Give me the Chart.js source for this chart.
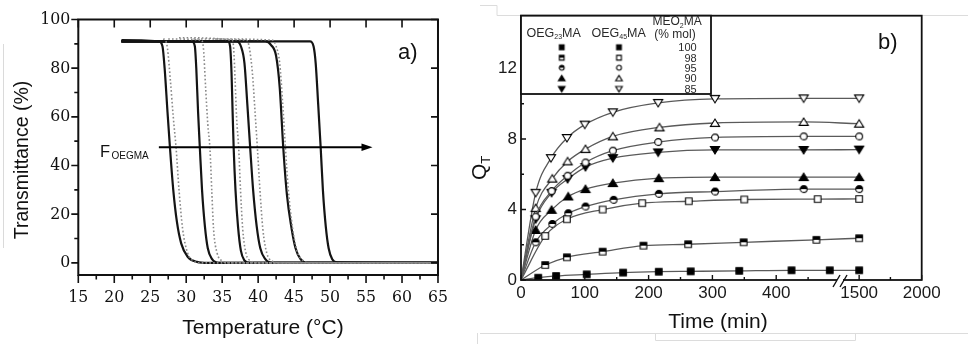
<!DOCTYPE html>
<html><head><meta charset="utf-8">
<script src="https://cdn.jsdelivr.net/npm/chart.js@4/dist/chart.umd.min.js"></script>
<style>
html,body{margin:0;padding:0;background:#fff;width:968px;height:344px;overflow:hidden}
#wa{position:absolute;left:0;top:0;width:460px;height:344px}
#wb{position:absolute;left:460px;top:0;width:508px;height:344px}
</style></head><body>
<div id="wa"><canvas id="ca"></canvas></div>
<div id="wb"><canvas id="cb"></canvas></div>
<script>
// ---------- Panel a) data ----------
const tempTicks = [15,20,25,30,35,40,45,50,55,60,65];
const tempMinor = [17.5,22.5,27.5,32.5,37.5,42.5,47.5,52.5,57.5,62.5];
const transTicks = [0,20,40,60,80,100];
const transMinor = [10,30,50,70,90];
const arrowT = [26.2, 55.9];
const arrowY = 47.5;

// heating curves (solid)
const h1T = [21, 26.2, 26.7, 27.0, 27.4, 27.75, 28.2, 28.7, 29.3, 30.2, 31.5, 33, 65];
const h1Y = [91.5, 91, 89, 80, 62, 47, 30, 17, 8, 2.5, 0.4, 0, 0];
const h2T = [21, 30.8, 31.2, 31.4, 31.65, 31.9, 32.2, 32.6, 33.0, 33.6, 34.5, 65];
const h2Y = [91, 91, 89, 80, 62, 47, 30, 15, 6, 1.5, 0, 0];
const h3T = [21, 35.8, 36.1, 36.3, 36.45, 36.6, 36.85, 37.2, 37.6, 38.1, 38.8, 65];
const h3Y = [91, 91, 89, 78, 62, 47, 30, 15, 5, 1, 0, 0];
const h4T = [21, 37.0, 37.6, 38.1, 38.5, 38.9, 39.3, 39.8, 40.3, 41.0, 42.0, 65];
const h4Y = [91, 91, 89, 82, 65, 47, 30, 15, 6, 1.5, 0, 0];
const h5T = [21, 41.0, 41.8, 42.5, 43.0, 43.5, 44.0, 44.6, 45.2, 45.9, 46.8, 65];
const h5Y = [91, 91, 89.5, 85, 72, 47, 28, 15, 6, 1.5, 0, 0];
const h6T = [21, 47.2, 47.7, 48.0, 48.35, 48.7, 49.0, 49.4, 49.8, 50.3, 51.0, 65];
const h6Y = [91, 91, 89, 82, 65, 47, 30, 15, 6, 1.5, 0.2, 0];
// cooling curves (dotted)
const c1T = [26.8, 27.1, 27.4, 27.8, 28.2, 28.6, 29.0, 29.5, 30.2, 31.0, 32.0, 65];
const c1Y = [92, 91.5, 88, 75, 60, 47, 30, 14, 4, 0.8, 0, 0];
const c2T = [27.5, 32.1, 32.4, 32.7, 33.0, 33.3, 33.55, 33.8, 34.3, 35.0, 36.0, 65];
const c2Y = [92, 91.5, 88, 72, 57, 47, 30, 14, 4, 0.8, 0, 0];
const c3T = [29, 36.4, 36.6, 36.8, 37.0, 37.3, 37.55, 37.85, 38.3, 39.0, 40.0, 65];
const c3Y = [92.5, 91.5, 88, 75, 60, 47, 30, 14, 4, 0.8, 0, 0];
const c4T = [31, 38.4, 38.8, 39.2, 39.55, 39.9, 40.25, 40.65, 41.2, 41.9, 43.0, 65];
const c4Y = [92, 91.5, 88, 78, 63, 47, 30, 14, 4, 0.8, 0, 0];
const c5T = [34, 42.0, 42.5, 43.0, 43.4, 43.8, 44.2, 44.8, 45.4, 46.2, 47.2, 65];
const c5Y = [92, 91.5, 89, 82, 66, 47, 30, 14, 5, 1, 0, 0];

// ---------- Panel b) data ----------
const timeTickVals = [0,100,200,300,400,1500,2000];
const timeTickLabels = ['0','100','200','300','400','1500','2000'];
const timeMinor = [50,150,250,350,450,1750];
const qTicks = [0,4,8,12];
const qMinor = [2,6,10,14];
const legendPct = ['100','98','95','90','85'];

const t100 = [0, 27, 55, 103, 160, 216, 266, 342, 424, 484, 1500];
const q100 = [0, 0.13, 0.23, 0.32, 0.42, 0.47, 0.49, 0.52, 0.55, 0.55, 0.55];
const tA98 = [0, 38, 72, 128, 192, 262, 349, 463, 1500];
const qA98 = [0, 0.85, 1.29, 1.61, 1.95, 2.03, 2.14, 2.28, 2.37];
const tB98 = [0, 38, 72, 128, 190, 263, 350, 465, 1500];
const qB98 = [0, 2.5, 3.45, 4.0, 4.36, 4.47, 4.57, 4.59, 4.6];
const tA95 = [0, 23, 49, 74, 101, 145, 216, 304, 443, 1500];
const qA95 = [0, 2.14, 3.18, 3.79, 4.17, 4.55, 4.89, 5.02, 5.16, 5.16];
const tB95 = [0, 23, 48, 73, 101, 144, 215, 304, 443, 1500];
const qB95 = [0, 3.6, 5.05, 5.92, 6.67, 7.34, 7.83, 8.09, 8.15, 8.15];
const tA90 = [0, 23, 48, 74, 101, 144, 216, 304, 443, 1500];
const qA90 = [0, 2.84, 3.98, 4.74, 5.16, 5.5, 5.78, 5.84, 5.84, 5.84];
const tB90 = [0, 23, 49, 73, 101, 144, 217, 304, 443, 1500];
const qB90 = [0, 4.08, 5.75, 6.73, 7.43, 8.15, 8.66, 8.91, 8.97, 8.87];
const tA85 = [0, 23, 48, 73, 101, 144, 215, 304, 443, 1500];
const qA85 = [0, 3.45, 4.95, 5.73, 6.41, 6.92, 7.24, 7.38, 7.38, 7.4];
const tB85 = [0, 23, 47, 72, 100, 144, 215, 304, 443, 1500];
const qB85 = [0, 4.95, 6.92, 8.06, 8.82, 9.52, 10.05, 10.28, 10.31, 10.31];

// broken time axis: 0-500 linear, 1500-2000 compressed
function toAxis(t){ return t <= 500 ? t : 530 + (t - 1500) / 5.1; }
function pts(xs, ys, f){ return xs.map((x,i)=>({x: f ? f(x) : x, y: ys[i]})); }

const SANS = '"Liberation Sans", Arimo, Arial, sans-serif';
const SERIF = '"DejaVu Serif Condensed", "DejaVu Serif", serif';

// ---------- marker images ----------
function marker(kind, s){
  const w = Math.round(12*s) + 2;
  const c = document.createElement('canvas'); c.width = w; c.height = w;
  const g = c.getContext('2d'); const m = w/2;
  g.lineWidth = 1.1; g.strokeStyle = '#000'; g.lineJoin = 'miter';
  const shape = kind.slice(0,2), fill = kind[2];
  function path(){
    g.beginPath();
    if (shape === 'sq'){ const r = 3.3*s; g.rect(m-r, m-r, 2*r, 2*r); }
    else if (shape === 'ci'){ g.arc(m, m, 3.4*s, 0, Math.PI*2); }
    else if (shape === 'tr'){ g.moveTo(m, m-4.0*s); g.lineTo(m+4.6*s, m+3.4*s); g.lineTo(m-4.6*s, m+3.4*s); g.closePath(); }
    else { g.moveTo(m, m+4.0*s); g.lineTo(m+4.6*s, m-3.4*s); g.lineTo(m-4.6*s, m-3.4*s); g.closePath(); }
  }
  path();
  if (fill === 'F'){ g.fillStyle = '#000'; g.fill(); g.stroke(); }
  else if (fill === 'O'){ g.fillStyle = '#fff'; g.fill(); g.stroke(); }
  else { g.fillStyle = '#fff'; g.fill(); g.save(); path(); g.clip(); g.fillStyle = '#000'; g.fillRect(0,0,w,m); g.restore(); path(); g.stroke(); }
  return c;
}

// ---------- Panel a ----------
const heatCurves = [[h1T,h1Y],[h2T,h2Y],[h3T,h3Y],[h4T,h4Y],[h5T,h5Y],[h6T,h6Y]];
const coolCurves = [[c1T,c1Y],[c2T,c2Y],[c3T,c3Y],[c4T,c4Y],[c5T,c5Y]];
const dsA = [];
coolCurves.forEach(([t,y]) => dsA.push({data: pts(t,y), borderColor:'#8a8a8a', borderWidth:1.6, borderDash:[1.6,2.2], pointRadius:0, cubicInterpolationMode:'monotone', fill:false}));
heatCurves.forEach(([t,y]) => dsA.push({data: pts(t,y), borderColor:'#141414', borderWidth:2.2, pointRadius:0, cubicInterpolationMode:'monotone', fill:false}));

const plugA = {
  id: 'plugA',
  afterDraw(chart){
    const c = chart.ctx, a = chart.chartArea, x = chart.scales.x, y = chart.scales.y;
    c.save();
    c.strokeStyle = '#dadada'; c.lineWidth = 1;
    c.beginPath(); c.moveTo(3.5, 44); c.lineTo(3.5, 248); c.stroke();
    c.strokeStyle = '#111'; c.lineWidth = 2;
    c.strokeRect(a.left, a.top, a.right - a.left, a.bottom - a.top);
    c.lineWidth = 1.6; c.beginPath();
    tempTicks.forEach(v => { const p = x.getPixelForValue(v);
      c.moveTo(p, a.bottom); c.lineTo(p, a.bottom + 8);
      c.moveTo(p, a.top); c.lineTo(p, a.top + 8); });
    tempMinor.forEach(v => { const p = x.getPixelForValue(v);
      c.moveTo(p, a.bottom); c.lineTo(p, a.bottom + 4.5); });
    transTicks.forEach(v => { const p = y.getPixelForValue(v);
      c.moveTo(a.left - 7, p); c.lineTo(a.left, p);
      c.moveTo(a.right, p); c.lineTo(a.right - 7, p); });
    transMinor.forEach(v => { const p = y.getPixelForValue(v);
      c.moveTo(a.left - 4, p); c.lineTo(a.left, p); });
    c.stroke();
    const x1 = x.getPixelForValue(arrowT[0]), x2 = x.getPixelForValue(arrowT[1]), py = y.getPixelForValue(arrowY);
    c.strokeStyle = '#000'; c.lineWidth = 2;
    c.beginPath(); c.moveTo(x1, py); c.lineTo(x2 - 8, py); c.stroke();
    c.fillStyle = '#000'; c.beginPath(); c.moveTo(x2, py); c.lineTo(x2 - 11, py - 3.8); c.lineTo(x2 - 11, py + 3.8); c.closePath(); c.fill();
    c.fillStyle = '#111'; c.textBaseline = 'alphabetic'; c.textAlign = 'left';
    c.font = '16.5px ' + SANS; c.fillText('F', 100, 157);
    c.font = '10px ' + SANS; c.fillText('OEGMA', 111.5, 158.5);
    c.font = '22px ' + SANS; c.textBaseline = 'middle'; c.fillText('a)', 398, 53);
    c.textAlign = 'center';
    c.font = '21px ' + SANS; c.fillText('Temperature (°C)', 263, 328);
    c.save(); c.translate(23, 160); c.rotate(-Math.PI/2);
    c.font = '19.5px ' + SANS; c.fillText('Transmittance (%)', 0, 0); c.restore();
    c.restore();
  }
};

new Chart(document.getElementById('ca'), {
  type: 'line',
  data: { datasets: dsA },
  options: {
    responsive: true, maintainAspectRatio: false, animation: false, devicePixelRatio: 1,
    layout: { padding: { left: 0, top: 19.5, right: 7.3, bottom: 0 } },
    plugins: { legend: { display: false }, tooltip: { enabled: false } },
    scales: {
      x: { type: 'linear', min: 15, max: 65,
        afterBuildTicks: s => { s.ticks = tempTicks.map(v => ({value: v})); },
        afterFit: s => { s.height = 69; },
        grid: { display: false, drawTicks: false }, border: { display: false },
        ticks: { font: { family: SERIF, size: 17.5 }, color: '#111', padding: 12, maxRotation: 0, autoSkip: false } },
      y: { type: 'linear', min: -5, max: 100,
        afterBuildTicks: s => { s.ticks = transTicks.map(v => ({value: v})); },
        afterFit: s => { s.width = 78.3; },
        grid: { display: false, drawTicks: false }, border: { display: false },
        ticks: { font: { family: SERIF, size: 17.5 }, color: '#111', padding: 8 } }
    }
  },
  plugins: [plugA]
});

// ---------- Panel b ----------
const seriesB = [
  {t: t100, q: q100, m: 'sqF'},
  {t: tA98, q: qA98, m: 'sqH'},
  {t: tB98, q: qB98, m: 'sqO'},
  {t: tA95, q: qA95, m: 'ciH'},
  {t: tB95, q: qB95, m: 'ciO'},
  {t: tA90, q: qA90, m: 'trF'},
  {t: tB90, q: qB90, m: 'trO'},
  {t: tA85, q: qA85, m: 'tdF'},
  {t: tB85, q: qB85, m: 'tdO'}
];
const dsB = seriesB.map(s => ({
  data: pts(s.t, s.q, toAxis), borderColor: '#5a5a5a', borderWidth: 1.3,
  cubicInterpolationMode: 'monotone', fill: false,
  pointStyle: marker(s.m, 1),
  pointRadius: ctx => (s.t[ctx.dataIndex] === 0 ? 0 : 4)
}));
const legendA = ['sqF','sqH','ciH','trF','tdF'].map(k => marker(k, 0.72));
const legendB = ['sqF','sqO','ciO','trO','tdO'].map(k => marker(k, 0.72));

function subText(c, parts, x, y, big, small){
  let cx = x;
  parts.forEach((p, i) => {
    if (i % 2 === 0){ c.font = big + 'px ' + SANS; c.fillText(p, cx, y); }
    else { c.font = small + 'px ' + SANS; c.fillText(p, cx, y + 2.5); }
    cx += c.measureText(p).width;
  });
}

const plugB = {
  id: 'plugB',
  afterDraw(chart){
    const c = chart.ctx, a = chart.chartArea, x = chart.scales.x, y = chart.scales.y;
    const ox = 460;
    c.save();
    c.strokeStyle = '#dcdcdc'; c.lineWidth = 1;
    c.beginPath();
    c.moveTo(480 - ox, 5.5); c.lineTo(497 - ox, 5.5); c.lineTo(497 - ox, 15.5); c.lineTo(508, 15.5);
    c.moveTo(480 - ox, 333.5); c.lineTo(508, 333.5);
    c.moveTo(655.5 - ox, 333.5); c.lineTo(655.5 - ox, 340.5); c.lineTo(855.5 - ox, 340.5); c.lineTo(855.5 - ox, 333.5);
    c.moveTo(17.5, 333); c.lineTo(17.5, 344);
    c.stroke();
    c.strokeStyle = '#111'; c.lineWidth = 1.8;
    c.strokeRect(a.left, a.top, a.right - a.left, a.bottom - a.top);
    c.lineWidth = 1.4; c.beginPath();
    timeTickVals.forEach(v => { const p = x.getPixelForValue(toAxis(v)); c.moveTo(p, a.bottom); c.lineTo(p, a.bottom - 5); });
    timeMinor.forEach(v => { const p = x.getPixelForValue(toAxis(v)); c.moveTo(p, a.bottom); c.lineTo(p, a.bottom - 3); });
    qTicks.forEach(v => { const p = y.getPixelForValue(v); c.moveTo(a.left, p); c.lineTo(a.left + 5, p); });
    qMinor.forEach(v => { const p = y.getPixelForValue(v); c.moveTo(a.left, p); c.lineTo(a.left + 3, p); });
    c.stroke();
    const xb = x.getPixelForValue(500);
    c.fillStyle = '#fff'; c.fillRect(xb - 3, a.bottom - 2, 6, 4);
    c.strokeStyle = '#111'; c.lineWidth = 1.4; c.beginPath();
    c.moveTo(xb - 7, a.bottom + 7); c.lineTo(xb, a.bottom - 5);
    c.moveTo(xb, a.bottom + 7); c.lineTo(xb + 7, a.bottom - 5);
    c.stroke();
    const L = a.left, T = a.top, R = 711 - ox, B = 94;
    c.fillStyle = '#fff'; c.fillRect(L, T, R - L, B - T);
    c.strokeStyle = '#111'; c.lineWidth = 1.8; c.strokeRect(L, T, R - L, B - T);
    c.fillStyle = '#2a2a2a'; c.textAlign = 'left'; c.textBaseline = 'alphabetic';
    subText(c, ['OEG','23','MA'], 526.5 - ox, 36.7, 12.5, 7);
    subText(c, ['OEG','45','MA'], 591.5 - ox, 36.7, 12.5, 7);
    subText(c, ['MEO','2','MA'], 652.5 - ox, 25, 12, 7);
    c.font = '12px ' + SANS; c.textAlign = 'center'; c.fillText('(% mol)', 675 - ox, 37.5);
    const rowY = [47.3, 57.7, 67.7, 78.3, 89];
    c.textAlign = 'right'; c.font = '11px ' + SANS;
    legendPct.forEach((p, i) => {
      c.fillText(p, 696.7 - ox, rowY[i] + 4);
      const ia = legendA[i], ib = legendB[i];
      c.drawImage(ia, 561.7 - ox - ia.width/2, rowY[i] - ia.height/2);
      c.drawImage(ib, 619 - ox - ib.width/2, rowY[i] - ib.height/2);
    });
    c.fillStyle = '#111'; c.textAlign = 'left'; c.textBaseline = 'middle';
    c.font = '22px ' + SANS; c.fillText('b)', 878 - ox, 43);
    c.textAlign = 'center'; c.font = '21px ' + SANS; c.fillText('Time (min)', 718 - ox, 322);
    c.save(); c.translate(486 - ox, 180); c.rotate(-Math.PI/2);
    c.textAlign = 'left'; c.textBaseline = 'alphabetic';
    c.font = '21px ' + SANS; c.fillText('Q', 0, 0);
    const qw = c.measureText('Q').width;
    c.font = '13px ' + SANS; c.fillText('T', qw, 4);
    c.restore();
    c.restore();
  }
};

new Chart(document.getElementById('cb'), {
  type: 'line',
  data: { datasets: dsB },
  options: {
    responsive: true, maintainAspectRatio: false, animation: false, devicePixelRatio: 1,
    layout: { padding: { left: 0, top: 15.7, right: 508 - 461.7, bottom: 0 } },
    plugins: { legend: { display: false }, tooltip: { enabled: false } },
    scales: {
      x: { type: 'linear', min: 0, max: toAxis(2000),
        afterBuildTicks: s => { s.ticks = timeTickVals.map(v => ({value: toAxis(v)})); },
        afterFit: s => { s.height = 64; },
        grid: { display: false, drawTicks: false }, border: { display: false },
        ticks: { font: { family: SANS, size: 17 }, color: '#1a1a1a', padding: 3, maxRotation: 0, autoSkip: false,
          callback: (v, i) => timeTickLabels[i] } },
      y: { type: 'linear', min: 0, max: 15,
        afterBuildTicks: s => { s.ticks = qTicks.map(v => ({value: v})); },
        afterFit: s => { s.width = 61; },
        grid: { display: false, drawTicks: false }, border: { display: false },
        ticks: { font: { family: SANS, size: 17 }, color: '#1a1a1a', padding: 4 } }
    }
  },
  plugins: [plugB]
});
</script>
</body></html>
